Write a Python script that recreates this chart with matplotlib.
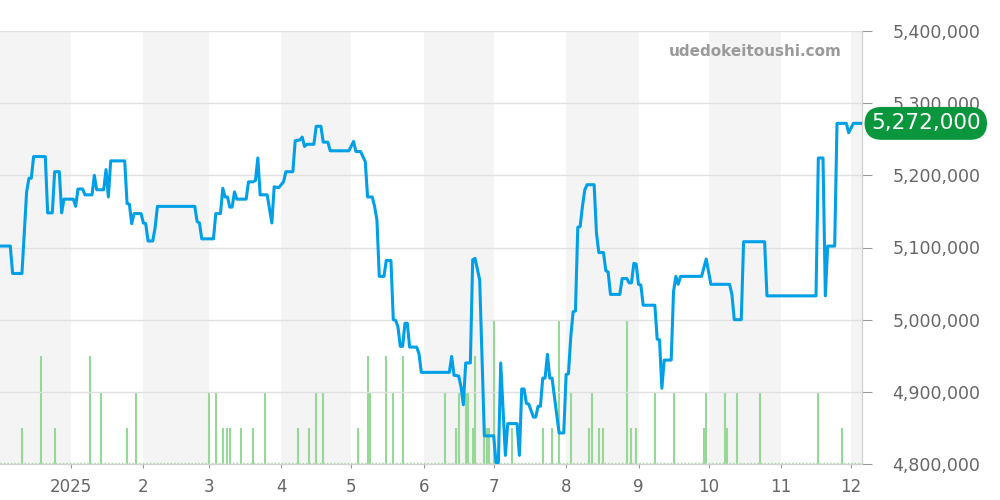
import matplotlib
matplotlib.use("Agg")
import matplotlib.pyplot as plt
import pandas as pd

# price history (days from 2025-01-01, price in thousand yen)
base = pd.Timestamp("2025-01-01")
price_day = [-30, -26, -25, -21, -19, -18, -17, -16, -11, -10, -8, -7, -5, -4, -3,
             1, 2, 3, 5, 6, 9, 10, 11, 14, 15, 16, 17, 23, 24, 25, 26, 27, 30, 31, 32,
             33, 35, 36, 37, 53, 54, 55, 56, 61, 62, 64, 65, 66, 67, 68, 69, 70, 71,
             75, 76, 78, 79, 80, 81, 84, 86, 87, 89, 91, 92, 95, 96, 98, 99, 100, 101,
             104, 105, 107, 108, 110, 111, 119, 121, 122, 124, 126, 127, 129, 130, 131,
             132, 134, 135, 137, 138, 139, 140, 141, 142, 143, 144, 145, 148, 149, 150,
             162, 163, 164, 166, 167, 168, 169, 171, 172, 173, 175, 177, 181, 182, 183,
             184, 186, 187, 191, 192, 193, 194, 195, 196, 198, 199, 200, 201, 202, 203,
             204, 205, 206, 207, 209, 211, 212, 213, 214, 215, 216, 217, 218, 219, 220,
             221, 224, 225, 226, 228, 229, 230, 231, 235, 236, 238, 239, 240, 241, 242,
             243, 244, 245, 250, 251, 252, 253, 254, 257, 258, 259, 260, 261, 270, 272,
             274, 282, 283, 284, 287, 288, 297, 298, 319, 320, 322, 323, 324, 327, 328,
             332, 333, 335, 339]
price_k = [5102, 5102, 5064, 5064, 5177, 5196, 5196, 5226, 5226, 5148, 5148, 5205, 5205, 5148, 5167,
           5167, 5157, 5181, 5181, 5173, 5173, 5200, 5180, 5180, 5208, 5170, 5220, 5220, 5161, 5160, 5133, 5147, 5147, 5134, 5133,
           5109, 5109, 5127, 5157, 5157, 5136, 5134, 5112, 5112, 5147, 5147, 5182, 5170, 5170, 5156, 5156, 5177, 5167,
           5167, 5191, 5191, 5193, 5224, 5173, 5173, 5134, 5184, 5183, 5191, 5205, 5205, 5248, 5249, 5253, 5240, 5243,
           5243, 5268, 5268, 5246, 5246, 5234, 5234, 5247, 5233, 5233, 5219, 5170, 5170, 5157, 5138,
           5060, 5060, 5082, 5082, 5000, 4999, 4990, 4963, 4963, 4995, 4995, 4962, 4962, 4953, 4927,
           4927, 4949, 4923, 4922, 4907, 4882, 4940, 4940, 5083, 5085, 5055, 4839, 4839, 4802, 4802,
           4940, 4812, 4856, 4856, 4812, 4904, 4904, 4884, 4883, 4865, 4865, 4880, 4880, 4919, 4919,
           4952, 4919, 4919, 4893, 4843, 4843, 4924, 4925, 4976, 5011, 5012, 5128, 5129, 5157, 5180,
           5187, 5187, 5120, 5093, 5093, 5068, 5066, 5035, 5035, 5057, 5057, 5051, 5051, 5078, 5077,
           5049, 5048, 5020, 5020, 4973, 4972, 4905, 4944, 4944, 5039, 5060, 5049, 5060, 5060, 5084,
           5049, 5049, 5035, 5000, 5000, 5108, 5108, 5033, 5033, 5224, 5224, 5033, 5102, 5102, 5272,
           5272, 5259, 5272, 5272]

# listings volume (days from 2025-01-01, count)
vol_day = [-21, -13, -7, 8, 13, 24, 28, 59, 62, 65, 67, 68, 73, 78, 83, 97, 102, 105, 108,
           123, 127, 128, 135, 138, 142, 160, 165, 166, 169, 170, 172, 173, 177, 178, 179, 181,
           189, 202, 206, 209, 214, 222, 223, 226, 228, 238, 240, 242, 250, 258,
           271, 272, 280, 281, 285, 295, 320, 330]
vol = [1, 3, 1, 3, 2, 1, 2, 2, 2, 1, 1, 1, 1, 1, 2, 1, 1, 2, 2,
       1, 3, 2, 3, 2, 3, 2, 1, 2, 2, 2, 1, 3, 1, 1, 1, 4,
       1, 1, 1, 4, 2, 1, 2, 1, 1, 4, 1, 1, 2, 2,
       1, 2, 2, 1, 2, 2, 2, 1]

month_labels = ["2025", "2", "3", "4", "5", "6", "7", "8", "9", "10", "11", "12"]
shaded_months = ["2024-12", "2025-02", "2025-04", "2025-06", "2025-08", "2025-10", "2025-12"]
price_ticks = [4800000, 4900000, 5000000, 5100000, 5200000, 5300000, 5400000]
last_price = 5272000

price_x = base + pd.to_timedelta(price_day, unit="D")
price_y = [p * 1000 for p in price_k]
vol_x = base + pd.to_timedelta(vol_day, unit="D")
x_left = base - pd.Timedelta(days=30.4)
x_right = base + pd.Timedelta(days=338.7)

fig = plt.figure(figsize=(10, 5), dpi=100)
axv = fig.add_axes([0.0, 0.072, 0.862, 0.866])
axp = axv.twinx()
axv.set_zorder(0)
axp.set_zorder(1)
axp.patch.set_visible(False)

# alternating month bands
for m in shaded_months:
    start = pd.Timestamp(m + "-01")
    end = start + pd.offsets.MonthBegin(1)
    axv.axvspan(start, end, color="#f4f4f4", lw=0, zorder=0)

# volume bars
axv.vlines(vol_x, 0, vol, colors="#96d996", lw=1.5, zorder=2)
axv.axhline(0.03, color="#96d996", lw=1, ls=(0, (1, 1.5)), zorder=2)
axv.set_ylim(0, 12)
axv.set_yticks([])
axv.set_xlim(x_left, x_right)

# price line
axp.plot(price_x, price_y, color="#00a0e9", lw=2.2, zorder=3)
axp.set_ylim(4800000, 5400000)
axp.set_yticks(price_ticks)
axp.set_yticklabels([f"{v:,}" for v in price_ticks])
axp.yaxis.grid(True, color="#e0e0e0", lw=1)
axp.set_axisbelow(True)
axp.tick_params(axis="y", length=7, color="#999999", pad=15, labelsize=12.5,
                labelcolor="#666666")

months = pd.date_range("2025-01-01", "2025-12-01", freq="MS")
axv.set_xticks(months)
axv.set_xticklabels(month_labels)
axv.tick_params(axis="x", length=3, color="#999999", pad=7, labelsize=12,
                labelcolor="#666666")

for ax in (axv, axp):
    for side in ("top", "left"):
        ax.spines[side].set_visible(False)
    ax.spines["right"].set_color("#d0d0d0")
    ax.spines["bottom"].set_color("#d0d0d0")

# last price badge
axp.text(1.074, last_price, f"{last_price:,}", transform=axp.get_yaxis_transform(),
         ha="center", va="center", fontsize=15.5, color="white", clip_on=False, zorder=5,
         bbox=dict(boxstyle="round,pad=0.3,rounding_size=0.8", fc="#0a963c", ec="none"))

fig.text(0.755, 0.896, "udedokeitoushi.com", ha="center", va="center",
         fontsize=11, fontweight="bold", color="#9a9a9a")

fig.savefig("out.png", dpi=100)
